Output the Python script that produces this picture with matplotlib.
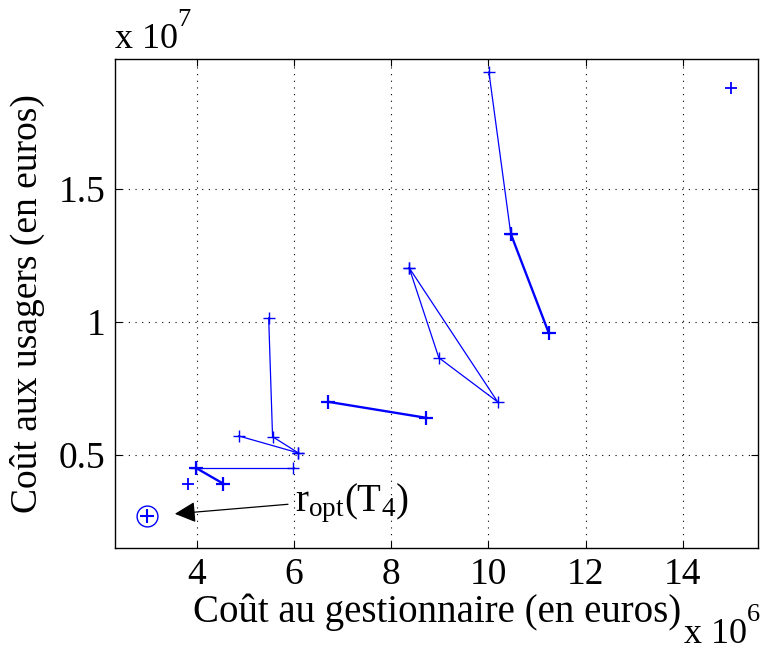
import matplotlib
matplotlib.use("Agg")
import matplotlib.pyplot as plt

plt.rcParams['font.family'] = 'Liberation Serif'
plt.rcParams['mathtext.fontset'] = 'custom'
plt.rcParams['mathtext.rm'] = 'Liberation Serif'
plt.rcParams['mathtext.it'] = 'Liberation Serif'

# costs in units of 1e6 (gestionnaire) and 1e7 (usagers)
chain_a_x = [10.01, 10.46]
chain_a_y = [1.94, 1.331]
chain_b_x = [10.46, 11.24]
chain_b_y = [1.331, 0.959]
tri_x = [8.37, 8.98, 10.19, 8.37]
tri_y = [1.203, 0.865, 0.699, 1.203]
seg_c_x = [6.71, 8.72]
seg_c_y = [0.699, 0.639]
chain_d_x = [5.48, 5.56, 6.09]
chain_d_y = [1.015, 0.568, 0.507]
seg_e_x = [4.86, 6.09]
seg_e_y = [0.571, 0.507]
seg_f_x = [3.98, 5.99]
seg_f_y = [0.451, 0.451]
seg_g_x = [3.98, 4.55]
seg_g_y = [0.451, 0.391]
single_x = [3.83, 15.0]
single_y = [0.391, 1.88]
opt_x = [2.97]
opt_y = [0.27]

blue = (0, 0, 1)

fig = plt.figure(figsize=(7.62, 6.53), dpi=100)
ax = fig.add_axes([0.151, 0.161, 0.844, 0.749])

# thin lines
for xs, ys in [(chain_a_x, chain_a_y), (tri_x, tri_y), (chain_d_x, chain_d_y), (seg_e_x, seg_e_y), (seg_f_x, seg_f_y)]:
    ax.plot(xs, ys, '-+', color=blue, lw=0.9, ms=9, mew=1.0)
# thick lines
for xs, ys in [(chain_b_x, chain_b_y), (seg_c_x, seg_c_y), (seg_g_x, seg_g_y)]:
    ax.plot(xs, ys, '-+', color=blue, lw=1.7, ms=10, mew=1.6)
ax.plot(single_x, single_y, '+', color=blue, ms=9, mew=1.3)
ax.plot(opt_x, opt_y, '+', color=blue, ms=10, mew=1.5)
ax.plot(opt_x, opt_y, 'o', mfc='none', mec=blue, ms=15, mew=1.0)

ax.annotate(r'$\mathregular{r_{opt}(T_4)}$', xy=(3.55, 0.278), xytext=(6.02, 0.286),
            fontsize=28, va='baseline', ha='left',
            arrowprops=dict(arrowstyle='-|>', color='black', lw=0.9, relpos=(0, 0.5),
                            mutation_scale=32, shrinkA=3, shrinkB=0))

ax.set_xlim(2.32, 15.55)
ax.set_ylim(0.15, 1.989)
ax.set_xticks([4, 6, 8, 10, 12, 14])
ax.set_xticklabels(['4', '6', '8', '10', '12', '14'])
ax.set_yticks([0.5, 1.0, 1.5])
ax.set_yticklabels(['0.5', '1', '1.5'])
ax.tick_params(direction='in', top=True, right=True, labelsize=27, length=5, width=0.8, pad=7)
ax.grid(True, color='black', linestyle=(0, (1, 5)), linewidth=0.8)
for s in ax.spines.values():
    s.set_linewidth(1.0)

ax.set_xlabel('Coût au gestionnaire (en euros)', fontsize=28, labelpad=1)
ax.set_ylabel('Coût aux usagers (en euros)', fontsize=27, labelpad=10)

# scale factors, drawn as "x 10" plus a raised exponent
fig.text(115 / 762, 1 - 48 / 653, 'x 10', fontsize=26, ha='left', va='baseline')
fig.text(177 / 762, 1 - 26 / 653, '7', fontsize=19, ha='left', va='baseline')
fig.text(684 / 762, 1 - 643 / 653, 'x 10', fontsize=26, ha='left', va='baseline')
fig.text(747 / 762, 1 - 621 / 653, '6', fontsize=19, ha='left', va='baseline')

fig.savefig('out.png', dpi=100)
